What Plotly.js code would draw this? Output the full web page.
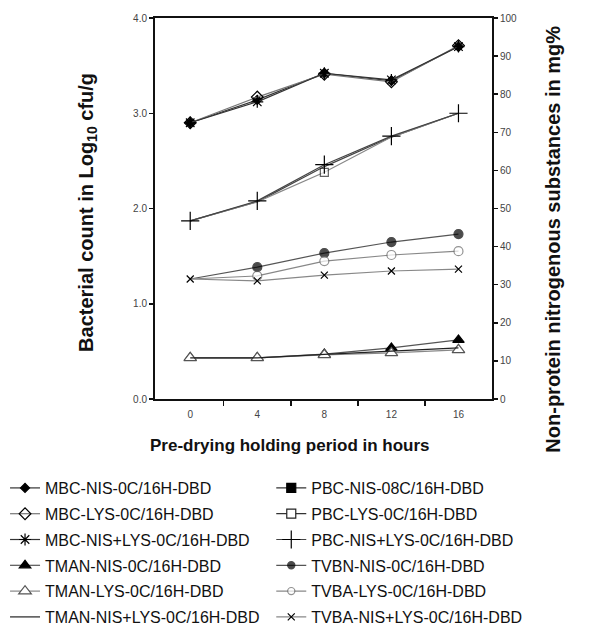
<!DOCTYPE html>
<html>
<head>
<meta charset="utf-8">
<script src="https://cdn.plot.ly/plotly-3.0.1.min.js"></script>
<style>html,body{margin:0;padding:0;background:#fff}#chart{width:598px;height:638px}</style>
</head>
<body>
<div id="chart"></div>
<script>
// Pre-drying holding period (hours)
var hours = [0, 4, 8, 12, 16];
var xTickLabels = ['0', '4', '8', '12', '16'];

// Bacterial counts (Log10 cfu/g) - left axis
var mbcNis    = [2.90, 3.14, 3.42, 3.34, 3.70];
var mbcLys    = [2.90, 3.17, 3.41, 3.33, 3.71];
var mbcNisLys = [2.90, 3.12, 3.42, 3.35, 3.70];
var pbcNis    = [1.87, 2.07, 2.44, 2.75, 3.00];
var pbcLys    = [1.87, 2.07, 2.38, 2.75, 3.00];
var pbcNisLys = [1.87, 2.08, 2.46, 2.76, 3.00];

// Non-protein nitrogenous substances (mg%) - right axis
var tmanNis    = [10.8, 10.8, 11.8, 13.4, 15.5];
var tmanLys    = [10.8, 10.8, 11.6, 12.1, 12.9];
var tmanNisLys = [10.8, 10.8, 11.7, 12.6, 13.4];
var tvbnNis    = [31.5, 34.6, 38.3, 41.2, 43.3];
var tvbaLys    = [31.5, 32.3, 36.2, 37.8, 38.8];
var tvbaNisLys = [31.5, 31.0, 32.5, 33.6, 34.1];

var leftTicks = [0, 1, 2, 3, 4];
var rightTicks = [0, 10, 20, 30, 40, 50, 60, 70, 80, 90, 100];

var names = {
  mbcNis: 'MBC-NIS-0C/16H-DBD', mbcLys: 'MBC-LYS-0C/16H-DBD', mbcNisLys: 'MBC-NIS+LYS-0C/16H-DBD',
  tmanNis: 'TMAN-NIS-0C/16H-DBD', tmanLys: 'TMAN-LYS-0C/16H-DBD', tmanNisLys: 'TMAN-NIS+LYS-0C/16H-DBD',
  pbcNis: 'PBC-NIS-08C/16H-DBD', pbcLys: 'PBC-LYS-0C/16H-DBD', pbcNisLys: 'PBC-NIS+LYS-0C/16H-DBD',
  tvbnNis: 'TVBN-NIS-0C/16H-DBD', tvbaLys: 'TVBA-LYS-0C/16H-DBD', tvbaNisLys: 'TVBA-NIS+LYS-0C/16H-DBD'
};

function tr(y, name, yaxis, symbol, size, legend, lineColor, fill, edge) {
  return {
    x: hours, y: y, name: name, yaxis: yaxis, mode: 'lines+markers',
    legend: legend, legendgroup: name,
    line: {color: lineColor || '#333', width: 1.2},
    marker: {symbol: symbol, size: size, color: fill || '#000',
             line: {color: edge || '#000', width: 1.2}}
  };
}
// legend swatch for a series whose marks are mostly hidden in the plot
function swatch(name, symbol, legend, lineColor, fill, edge) {
  return {x: [null], y: [null], name: name, mode: 'lines+markers', legend: legend,
    legendgroup: name, line: {color: lineColor, width: 1.2},
    marker: {symbol: symbol, size: 9, color: fill, line: {color: edge, width: 1.2}}};
}

var pbcNisTrace = tr(pbcNis, names.pbcNis, 'y', 'square', 9, 'legend2', '#444');
pbcNisTrace.mode = 'lines'; pbcNisTrace.showlegend = false;
var pbcLysTrace = tr(pbcLys, names.pbcLys, 'y', 'square', 9, 'legend2', '#888', '#fff', '#222');
pbcLysTrace.marker.size = [0, 0, 8, 0, 0]; pbcLysTrace.showlegend = false;
var tvbnTrace = tr(tvbnNis, names.tvbnNis, 'y2', 'circle', 9, 'legend2', '#555');
tvbnTrace.marker.size = [0, 9, 9, 9, 9];
var tvbaLysTrace = tr(tvbaLys, names.tvbaLys, 'y2', 'circle', 9, 'legend2', '#888', '#fff', '#666');
tvbaLysTrace.marker.size = [0, 9, 9, 9, 9];
var tmanNisLysTrace = tr(tmanNisLys, names.tmanNisLys, 'y2', 'circle', 1, 'legend', '#222');
tmanNisLysTrace.mode = 'lines';

var data = [
  tr(mbcNis, names.mbcNis, 'y', 'diamond', 7, 'legend', '#333'),
  tr(mbcLys, names.mbcLys, 'y', 'diamond-open', 9, 'legend', '#777', null, '#444'),
  tr(mbcNisLys, names.mbcNisLys, 'y', 'asterisk-open', 10, 'legend', '#333'),
  tr(tmanNis, names.tmanNis, 'y2', 'triangle-up', 10, 'legend', '#555'),
  tr(tmanLys, names.tmanLys, 'y2', 'triangle-up', 11, 'legend', '#888', '#fff', '#555'),
  tmanNisLysTrace,
  swatch(names.pbcNis, 'square', 'legend2', '#333', '#000', '#000'),
  pbcNisTrace,
  swatch(names.pbcLys, 'square', 'legend2', '#333', '#fff', '#222'),
  pbcLysTrace,
  tr(pbcNisLys, names.pbcNisLys, 'y', 'cross-thin-open', 13, 'legend2', '#444'),
  tvbnTrace,
  tvbaLysTrace,
  tr(tvbaNisLys, names.tvbaNisLys, 'y2', 'x-thin-open', 7, 'legend2', '#888', null, '#666')
];

var tickFont = {family: 'Liberation Sans, Arial, sans-serif', size: 10, color: '#444'};
var titleFont = {family: 'Liberation Sans, Arial, sans-serif', size: 20, color: '#111', weight: 'bold'};
var legFont = {family: 'Liberation Sans, Arial, sans-serif', size: 16, color: '#111'};

var layout = {
  width: 598, height: 638,
  margin: {l: 155, r: 106, t: 18, b: 239, autoexpand: false},
  paper_bgcolor: '#fff', plot_bgcolor: '#fff',
  showlegend: true,
  xaxis: {
    range: [-2.1, 18], tickvals: hours, ticktext: xTickLabels, ticks: '',
    ticklabelstandoff: 5,
    showline: true, linecolor: '#111', linewidth: 2, mirror: true,
    showgrid: false, zeroline: false, tickfont: tickFont,
    minor: {tickmode: 'array', tickvals: [2, 6, 10, 14], ticks: 'outside', ticklen: 5, tickwidth: 1.5, tickcolor: '#111', showgrid: false}
  },
  yaxis: {
    range: [0, 4], tickvals: leftTicks, tickformat: '.1f', ticks: 'outside', ticklen: 4,
    tickwidth: 1.5, tickcolor: '#111',
    showline: true, linecolor: '#111', linewidth: 2, showgrid: false, zeroline: false,
    tickfont: tickFont
  },
  yaxis2: {
    overlaying: 'y', side: 'right', anchor: 'x',
    range: [0, 100], tickvals: rightTicks, ticks: 'outside', ticklen: 4,
    tickwidth: 1.5, tickcolor: '#111',
    showline: true, linecolor: '#111', linewidth: 2, showgrid: false, zeroline: false,
    tickfont: tickFont
  },
  yaxis3: {
    overlaying: 'y', side: 'right', anchor: 'x',
    range: [0, 100], tickvals: rightTicks, ticks: 'inside', ticklen: 4,
    tickwidth: 1.5, tickcolor: '#111', showticklabels: false,
    showline: false, showgrid: false, zeroline: false
  },
  legend: {
    x: -0.445, y: -0.189, xanchor: 'left', yanchor: 'top',
    bgcolor: 'rgba(0,0,0,0)', font: legFont, tracegroupgap: 2, itemwidth: 30
  },
  legend2: {
    x: 0.345, y: -0.189, xanchor: 'left', yanchor: 'top',
    bgcolor: 'rgba(0,0,0,0)', font: legFont, tracegroupgap: 2, itemwidth: 30
  },
  annotations: [
    {text: 'Bacterial count in Log<sub>10</sub> cfu/g', xref: 'paper', yref: 'paper',
     x: -0.2, y: 0.49, textangle: -90, showarrow: false, font: titleFont,
     xanchor: 'center', yanchor: 'middle'},
    {text: 'Non-protein nitrogenous substances in mg%', xref: 'paper', yref: 'paper',
     x: 1.18, y: 0.42, textangle: -90, showarrow: false, font: titleFont,
     xanchor: 'center', yanchor: 'middle'},
    {text: 'Pre-drying holding period in hours', xref: 'paper', yref: 'paper',
     x: 0.40, y: -0.121, showarrow: false,
     font: {family: 'Liberation Sans, Arial, sans-serif', size: 17, color: '#111', weight: 'bold'},
     xanchor: 'center', yanchor: 'middle'}
  ]
};

Plotly.newPlot('chart', data, layout, {staticPlot: true, displayModeBar: false});
</script>
</body>
</html>
